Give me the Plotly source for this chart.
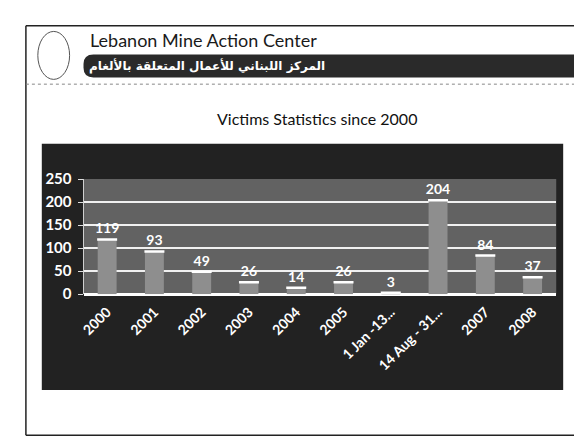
import plotly.graph_objects as go

categories = ["2000", "2001", "2002", "2003", "2004", "2005",
              "1 Jan -13...", "14 Aug - 31...", "2007", "2008"]
victims = [119, 93, 49, 26, 14, 26, 3, 204, 84, 37]
y_ticks = [0, 50, 100, 150, 200, 250]

W, H = 582, 439


def px(x):
    return x / W


def py(y):
    return 1 - y / H


fig = go.Figure()
fig.add_trace(go.Bar(
    x=categories, y=victims,
    marker=dict(color="#8e8e8e", line=dict(width=0)),
    text=[str(v) for v in victims], textposition="outside",
    textfont=dict(family="Lato", size=14, color="white", weight="bold"),
    constraintext="none",
    cliponaxis=False,
    error_y=dict(type="constant", value=0, width=10, color="white", thickness=2.5),
))

shapes = []
line_col = "#222222"
shapes += [
    dict(type="line", xref="paper", yref="paper", x0=px(14), x1=px(582), y0=py(8), y1=py(8),
         line=dict(color=line_col, width=1.5)),
    dict(type="line", xref="paper", yref="paper", x0=px(14), x1=px(14), y0=py(8), y1=py(435),
         line=dict(color=line_col, width=1.5)),
    dict(type="line", xref="paper", yref="paper", x0=px(14), x1=px(580), y0=py(435), y1=py(435),
         line=dict(color=line_col, width=1.5)),
    dict(type="line", xref="paper", yref="paper", x0=px(579), x1=px(579), y0=py(185), y1=py(435),
         line=dict(color=line_col, width=1.5)),
    dict(type="line", xref="paper", yref="paper", x0=px(14), x1=px(582), y0=py(69), y1=py(69),
         line=dict(color="#888888", width=1, dash="dot")),
]
# banner with rounded left end
bx0, bx1, by0, by1 = 72, 582, 38, 62
r = 10
path = (f"M {px(bx0 + r)} {py(by0)} L {px(bx1)} {py(by0)} L {px(bx1)} {py(by1)} "
        f"L {px(bx0 + r)} {py(by1)} Q {px(bx0)} {py(by1)} {px(bx0)} {py(by1 - r)} "
        f"L {px(bx0)} {py(by0 + r)} Q {px(bx0)} {py(by0)} {px(bx0 + r)} {py(by0)} Z")
shapes.append(dict(type="path", xref="paper", yref="paper", path=path,
                   fillcolor="#2a2a2a", line=dict(width=0)))
# logo (rough outline)
shapes.append(dict(type="circle", xref="paper", yref="paper",
                   x0=px(26), x1=px(58), y0=py(14), y1=py(64),
                   line=dict(color="#555555", width=1)))
# dark chart area
shapes.append(dict(type="rect", xref="paper", yref="paper", layer="below",
                   x0=px(30), x1=px(555), y0=py(131), y1=py(388),
                   fillcolor="#222222", line=dict(width=0)))
# plot area background
shapes.append(dict(type="rect", xref="paper", yref="paper", layer="below",
                   x0=px(72), x1=px(548), y0=py(168), y1=py(288),
                   fillcolor="#626262", line=dict(width=0)))

annotations = [
    dict(text="Lebanon Mine Action Center", xref="paper", yref="paper",
         x=px(77), y=py(23), xanchor="left", yanchor="middle", showarrow=False,
         font=dict(family="Lato", size=18, color="#1a1a1a")),
    dict(text="<b>المركز اللبناني للأعمال المتعلقة بالألغام</b>", xref="paper", yref="paper",
         x=px(76), y=py(50), xanchor="left", yanchor="middle", showarrow=False,
         font=dict(family="DejaVu Sans", size=12, color="white")),
    dict(text="Victims Statistics since 2000", xref="paper", yref="paper",
         x=px(307), y=py(105), xanchor="center", yanchor="middle", showarrow=False,
         font=dict(family="Lato", size=16, color="#111111")),
]

fig.update_layout(
    width=W, height=H, autosize=False,
    margin=dict(l=0, r=0, t=0, b=0),
    paper_bgcolor="white", plot_bgcolor="rgba(0,0,0,0)",
    showlegend=False, bargap=0.6,
    shapes=shapes, annotations=annotations,
    xaxis=dict(domain=[px(72), px(548)], type="category", tickangle=-45,
               tickfont=dict(family="Lato", size=14, color="white", weight="bold"),
               ticklabelstandoff=6,
               showgrid=False, showline=False, ticks=""),
    yaxis=dict(domain=[py(288), py(168)], range=[0, 250], tickvals=y_ticks,
               tickfont=dict(family="Lato", size=15, color="white", weight="bold"),
               ticklabelstandoff=3,
               showgrid=True, gridcolor="#f0f0f0", gridwidth=1.5,
               zeroline=True, zerolinecolor="white", zerolinewidth=2.5,
               showline=True, linecolor="#cfcfcf", linewidth=1,
               ticks="outside", ticklen=5, tickcolor="#dddddd"),
)

fig.write_html("out.html")
